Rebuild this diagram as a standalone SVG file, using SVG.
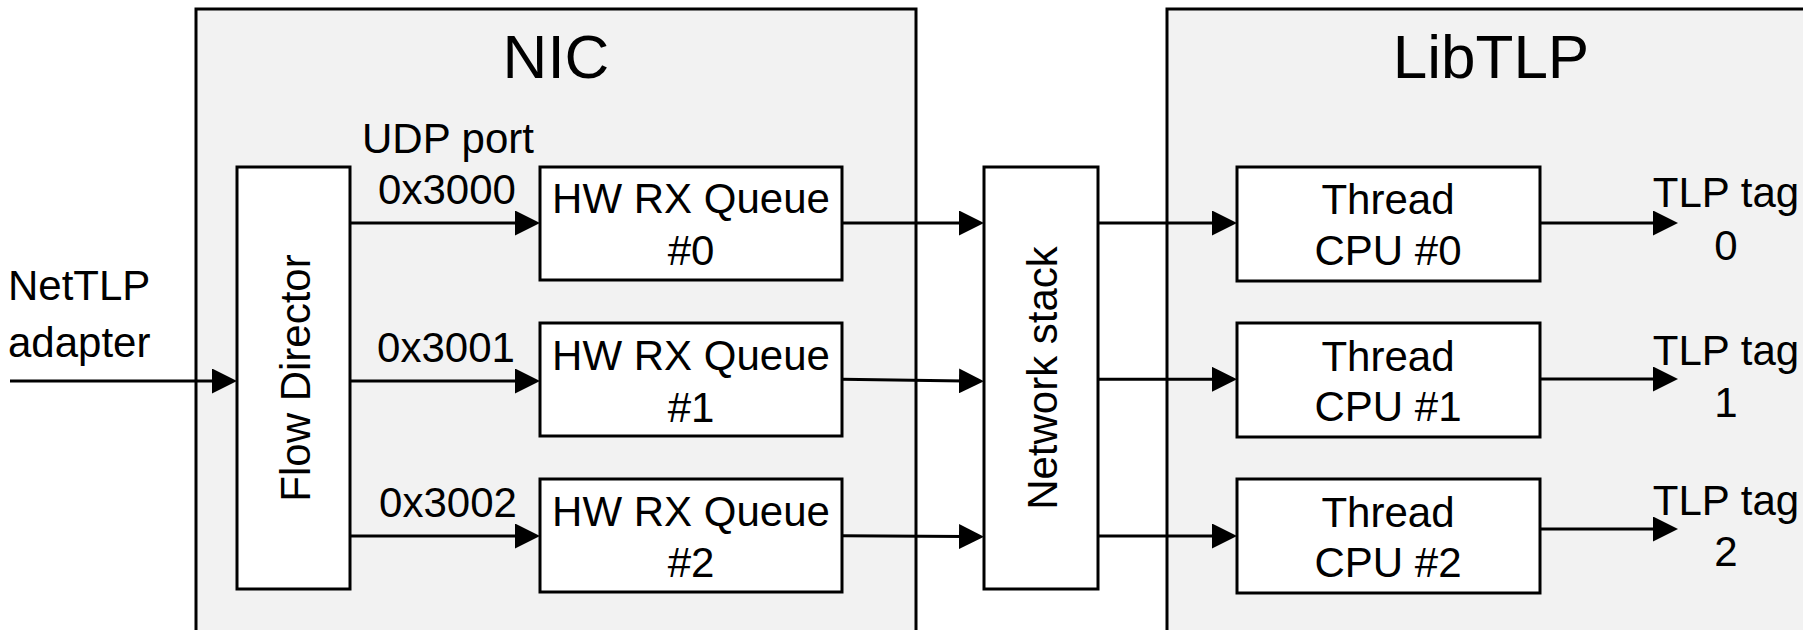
<svg xmlns="http://www.w3.org/2000/svg" width="1803" height="630" viewBox="0 0 1803 630">
  <style>
    text { font-family: "Liberation Sans", Arial, sans-serif; fill: #000; }
    .title { font-size: 62px; text-anchor: middle; }
    .lbl { font-size: 42px; text-anchor: middle; }
    .lft { font-size: 42px; text-anchor: start; }
    .container { fill: #f2f2f2; stroke: #000; stroke-width: 3; }
    .box { fill: #fff; stroke: #000; stroke-width: 3; }
    .edge { fill: none; stroke: #000; stroke-width: 3; marker-end: url(#arrow); }
  </style>
  <defs>
    <marker id="arrow" markerUnits="userSpaceOnUse" markerWidth="25" markerHeight="25" refX="5" refY="12.5" orient="auto">
      <path d="M0,0 L25,12.5 L0,25 Z" fill="#000"/>
    </marker>
  </defs>

  <rect width="1803" height="630" fill="#fff"/>

  <!-- containers -->
  <g id="nic">
    <rect class="container" x="196" y="9" width="720" height="660"/>
    <text class="title" x="556" y="78">NIC</text>
  </g>
  <g id="libtlp">
    <rect class="container" x="1167" y="9" width="700" height="660"/>
    <text class="title" x="1491" y="78">LibTLP</text>
  </g>

  <!-- external input label -->
  <g id="nettlp-adapter">
    <text class="lft" x="8" y="300">NetTLP</text>
    <text class="lft" x="8" y="357">adapter</text>
  </g>

  <!-- NIC internals -->
  <g id="flow-director">
    <rect class="box" x="237" y="167" width="113" height="422"/>
    <text class="lbl" transform="translate(310,378) rotate(-90)">Flow Director</text>
  </g>
  <g id="hw-rx-queue-0">
    <rect class="box" x="540" y="167" width="302" height="113"/>
    <text class="lbl" x="691" y="213">HW RX Queue</text>
    <text class="lbl" x="691" y="265">#0</text>
  </g>
  <g id="hw-rx-queue-1">
    <rect class="box" x="540" y="323" width="302" height="113"/>
    <text class="lbl" x="691" y="370">HW RX Queue</text>
    <text class="lbl" x="691" y="422">#1</text>
  </g>
  <g id="hw-rx-queue-2">
    <rect class="box" x="540" y="479" width="302" height="113"/>
    <text class="lbl" x="691" y="526">HW RX Queue</text>
    <text class="lbl" x="691" y="577">#2</text>
  </g>

  <!-- kernel network stack -->
  <g id="network-stack">
    <rect class="box" x="984" y="167" width="114" height="422"/>
    <text class="lbl" transform="translate(1057,378) rotate(-90)">Network stack</text>
  </g>

  <!-- LibTLP threads -->
  <g id="thread-cpu-0">
    <rect class="box" x="1237" y="167" width="303" height="114"/>
    <text class="lbl" x="1388" y="214">Thread</text>
    <text class="lbl" x="1388" y="265">CPU #0</text>
  </g>
  <g id="thread-cpu-1">
    <rect class="box" x="1237" y="323" width="303" height="114"/>
    <text class="lbl" x="1388" y="371">Thread</text>
    <text class="lbl" x="1388" y="421">CPU #1</text>
  </g>
  <g id="thread-cpu-2">
    <rect class="box" x="1237" y="479" width="303" height="114"/>
    <text class="lbl" x="1388" y="527">Thread</text>
    <text class="lbl" x="1388" y="577">CPU #2</text>
  </g>

  <!-- connectors -->
  <g id="connectors">
    <path class="edge" d="M10,381 H217"/>
    <path class="edge" d="M350,223 H520"/>
    <path class="edge" d="M350,381 H520"/>
    <path class="edge" d="M350,536 H520"/>
    <path class="edge" d="M842,223 H964"/>
    <path class="edge" d="M842,379.3 L964,381"/>
    <path class="edge" d="M842,535.7 L964,536.6"/>
    <path class="edge" d="M1098,223 H1217"/>
    <path class="edge" d="M1098,379.3 H1217"/>
    <path class="edge" d="M1098,536 H1217"/>
    <path class="edge" d="M1540,223 H1658"/>
    <path class="edge" d="M1540,379 H1658"/>
    <path class="edge" d="M1540,529 H1658"/>
  </g>

  <!-- connector labels -->
  <g id="connector-labels">
    <text class="lbl" x="448" y="153">UDP port</text>
    <text class="lbl" x="447" y="204">0x3000</text>
    <text class="lbl" x="446" y="362">0x3001</text>
    <text class="lbl" x="448" y="517">0x3002</text>
    <text class="lbl" x="1726" y="207">TLP tag</text>
    <text class="lbl" x="1726" y="260">0</text>
    <text class="lbl" x="1726" y="365">TLP tag</text>
    <text class="lbl" x="1726" y="417">1</text>
    <text class="lbl" x="1726" y="515">TLP tag</text>
    <text class="lbl" x="1726" y="566">2</text>
  </g>
</svg>
